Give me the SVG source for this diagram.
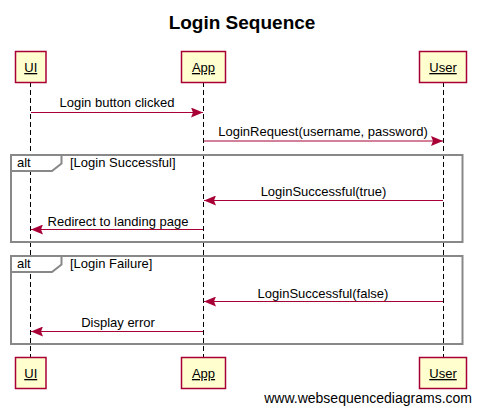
<svg xmlns="http://www.w3.org/2000/svg" width="481" height="413" viewBox="0 0 481 413">
<style>
text{font-family:"Liberation Sans",Arial,sans-serif;fill:#000}
.title{font-size:19px;font-weight:bold}
.lbl{font-size:13px}
.part{font-size:13px;text-decoration:underline}
.box{fill:#FEFECE;stroke:#A80036;stroke-width:1.5}
.life{stroke:#000;stroke-width:1;stroke-dasharray:5,3}
.msg{stroke:#A80036;stroke-width:1;fill:none}
.frame{fill:none;stroke:#888;stroke-width:2}
.tab{fill:#fff;stroke:#888;stroke-width:2}
</style>
<defs>
<marker id="ah" viewBox="0 0 12 10" refX="12" refY="5" markerWidth="12" markerHeight="10" markerUnits="userSpaceOnUse" orient="auto">
<path d="M0,0 L12,5 L0,10 L2,5 Z" fill="#A80036"/>
</marker>
</defs>
<rect width="481" height="413" fill="#fff"/>
<text class="title" x="242" y="29" text-anchor="middle">Login Sequence</text>
<g id="lifelines">
<line class="life" x1="30.5" y1="82" x2="30.5" y2="357"/>
<line class="life" x1="203.5" y1="82" x2="203.5" y2="357"/>
<line class="life" x1="443.5" y1="82" x2="443.5" y2="357"/>
</g>
<g id="frames">
<rect class="frame" x="11" y="155" width="451.5" height="87"/>
<path class="tab" d="M11,155 L61.5,155 L61.5,163.5 L52,171 L11,171 Z"/>
<text class="lbl" x="17" y="167">alt</text>
<text class="lbl" x="70" y="166.5">[Login Successful]</text>
<rect class="frame" x="11" y="256" width="451.5" height="88"/>
<path class="tab" d="M11,256 L61.5,256 L61.5,264.5 L52,272 L11,272 Z"/>
<text class="lbl" x="17" y="268">alt</text>
<text class="lbl" x="70" y="267.5">[Login Failure]</text>
</g>
<g id="connectors">
<line class="msg" x1="31" y1="112.5" x2="203" y2="112.5" marker-end="url(#ah)"/>
<text class="lbl" x="117" y="107" text-anchor="middle">Login button clicked</text>
<line class="msg" x1="204" y1="141" x2="443" y2="141" marker-end="url(#ah)"/>
<text class="lbl" x="323" y="136" text-anchor="middle">LoginRequest(username, password)</text>
<line class="msg" x1="443" y1="200.5" x2="204" y2="200.5" marker-end="url(#ah)"/>
<text class="lbl" x="323.5" y="196" text-anchor="middle">LoginSuccessful(true)</text>
<line class="msg" x1="203" y1="229.5" x2="31" y2="229.5" marker-end="url(#ah)"/>
<text class="lbl" x="118" y="225.5" text-anchor="middle">Redirect to landing page</text>
<line class="msg" x1="443" y1="301.5" x2="204" y2="301.5" marker-end="url(#ah)"/>
<text class="lbl" x="323" y="297.5" text-anchor="middle">LoginSuccessful(false)</text>
<line class="msg" x1="203" y1="331.5" x2="31" y2="331.5" marker-end="url(#ah)"/>
<text class="lbl" x="118" y="327" text-anchor="middle">Display error</text>
</g>
<g id="UI">
<rect class="box" x="15.5" y="51.5" width="30.5" height="31"/>
<text class="part" x="30.75" y="72" text-anchor="middle">UI</text>
</g>
<g id="App">
<rect class="box" x="181.5" y="51.5" width="44" height="31"/>
<text class="part" x="203.5" y="72" text-anchor="middle">App</text>
</g>
<g id="User">
<rect class="box" x="419.5" y="51.5" width="47" height="31"/>
<text class="part" x="443" y="72" text-anchor="middle">User</text>
</g>
<g id="UI-bottom">
<rect class="box" x="15.5" y="357.5" width="30.5" height="31"/>
<text class="part" x="30.75" y="378" text-anchor="middle">UI</text>
</g>
<g id="App-bottom">
<rect class="box" x="181.5" y="357.5" width="44" height="31"/>
<text class="part" x="203.5" y="378" text-anchor="middle">App</text>
</g>
<g id="User-bottom">
<rect class="box" x="419.5" y="357.5" width="47" height="31"/>
<text class="part" x="443" y="378" text-anchor="middle">User</text>
</g>
<text class="lbl" x="472" y="403" text-anchor="end" style="font-size:14px">www.websequencediagrams.com</text>
</svg>
